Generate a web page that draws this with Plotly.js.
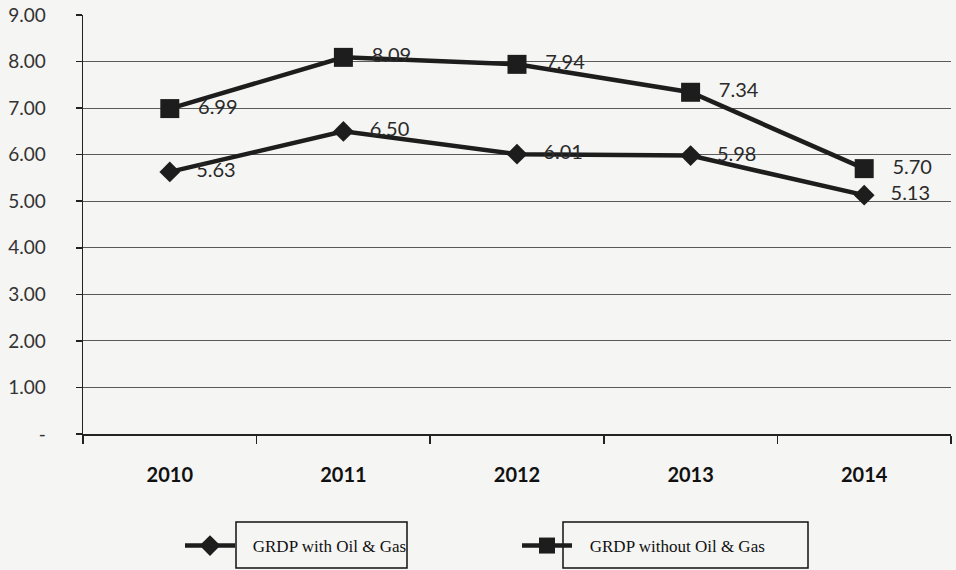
<!DOCTYPE html>
<html>
<head>
<meta charset="utf-8">
<script src="https://cdn.plot.ly/plotly-3.0.1.min.js"></script>
<style>
html,body{margin:0;padding:0;background:#f4f4f2;}
#chart{width:956px;height:570px;}
</style>
</head>
<body>
<div id="chart"></div>
<script>
const years = ["2010", "2011", "2012", "2013", "2014"];
const withOilGas = [5.63, 6.50, 6.01, 5.98, 5.13];
const withoutOilGas = [6.99, 8.09, 7.94, 7.34, 5.70];
const yTickVals = [0, 1, 2, 3, 4, 5, 6, 7, 8, 9];
const yTickText = ["-", "1.00", "2.00", "3.00", "4.00", "5.00", "6.00", "7.00", "8.00", "9.00"];
const seriesNames = ["GRDP with Oil & Gas", "GRDP without Oil & Gas"];

const lineColor = "#1d1d1d";
const labelFont = {family: "Lato", size: 20, color: "#2a2a2a"};
const pad = "\u00a0\u00a0\u00a0";

const traces = [
  {
    x: years, y: withOilGas, name: pad + seriesNames[0],
    type: "scatter", mode: "lines+markers+text",
    line: {color: lineColor, width: 4.5},
    marker: {symbol: "diamond", size: 16, color: lineColor},
    texttemplate: pad + "%{y:.2f}", textposition: "middle right",
    textfont: labelFont, cliponaxis: false
  },
  {
    x: years, y: withoutOilGas, name: pad + seriesNames[1],
    type: "scatter", mode: "lines+markers+text",
    line: {color: lineColor, width: 4.5},
    marker: {symbol: "square", size: 19, color: lineColor},
    texttemplate: pad + "%{y:.2f}", textposition: "middle right",
    textfont: labelFont, cliponaxis: false
  }
];

const layout = {
  width: 956, height: 570,
  paper_bgcolor: "#f5f5f3", plot_bgcolor: "#f5f5f3",
  margin: {l: 83, r: 5, t: 15, b: 136},
  showlegend: true,
  legend: {
    orientation: "h", xref: "container", yref: "container",
    x: 180/956, y: 24/570, xanchor: "left", yanchor: "middle",
    font: {family: "Liberation Serif", size: 17, color: "#111"},
    entrywidth: 272, entrywidthmode: "pixels", itemwidth: 50,
    bgcolor: "rgba(0,0,0,0)"
  },
  xaxis: {
    type: "category", range: [-0.5, 4.5],
    tickson: "boundaries", ticks: "outside", ticklen: 8, tickcolor: "#222", tickwidth: 1.5,
    showline: true, linecolor: "#222", linewidth: 1.5,
    showgrid: false, zeroline: false,
    tickfont: {family: "Lato", size: 20, color: "#111", weight: "bold"},
    ticklabelstandoff: 22
  },
  yaxis: {
    range: [0, 9], tickvals: yTickVals, ticktext: yTickText,
    ticks: "outside", ticklen: 6, tickcolor: "#222", tickwidth: 1.5,
    showline: true, linecolor: "#222", linewidth: 1.5,
    showgrid: true, gridcolor: "#5a5a5a", gridwidth: 1.2, zeroline: false,
    tickfont: {family: "Lato", size: 19, color: "#333"},
    ticklabelstandoff: 26
  },
  shapes: [
    {type: "rect", xref: "paper", yref: "paper",
     x0: (236-83)/868, x1: (407-83)/868, y0: (434-522)/419, y1: (434-568)/419,
     line: {color: "#111", width: 1.5}},
    {type: "rect", xref: "paper", yref: "paper",
     x0: (563-83)/868, x1: (808-83)/868, y0: (434-522)/419, y1: (434-568)/419,
     line: {color: "#111", width: 1.5}}
  ]
};

Plotly.newPlot("chart", traces, layout, {displayModeBar: false, staticPlot: true});
</script>
</body>
</html>
